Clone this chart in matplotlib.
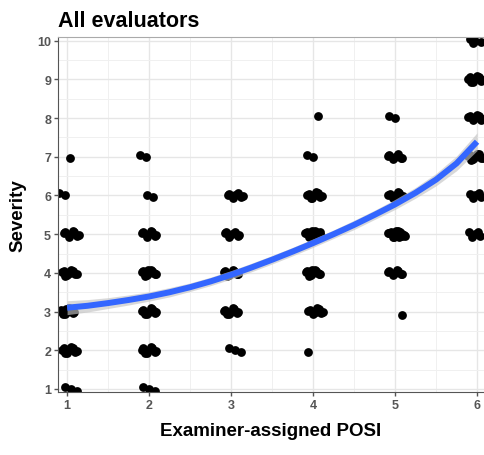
import matplotlib.pyplot as plt
import numpy as np

plt.rcParams['font.family'] = ['Liberation Sans', 'DejaVu Sans']

# cells of the jittered scatter: posi, severity, number of points, cluster shift
cell_posi = [1, 1, 1, 1, 1, 1, 1,
             2, 2, 2, 2, 2, 2, 2,
             3, 3, 3, 3, 3,
             4, 4, 4, 4, 4, 4, 4,
             5, 5, 5, 5, 5, 5,
             6, 6, 6, 6, 6, 6]
cell_sev = [1, 2, 3, 4, 5, 6, 7,
            1, 2, 3, 4, 5, 6, 7,
            2, 3, 4, 5, 6,
            2, 3, 4, 5, 6, 7, 8,
            3, 4, 5, 6, 7, 8,
            5, 6, 7, 8, 9, 10]
cell_n = [3, 9, 11, 9, 8, 2, 1,
          3, 9, 10, 11, 8, 2, 2,
          3, 9, 10, 7, 7,
          1, 8, 11, 16, 9, 2, 1,
          1, 8, 15, 8, 7, 2,
          5, 5, 9, 8, 9, 4]
cell_dx = [0.05, 0.03, 0.00, 0.03, 0.05, -0.03, 0.03,
           0.00, 0.00, 0.00, 0.00, 0.00, 0.05, -0.04,
           0.05, 0.00, 0.00, 0.01, 0.05,
           -0.06, 0.03, 0.00, 0.00, 0.02, 0.00, 0.06,
           0.09, 0.00, 0.02, 0.01, 0.00, 0.00,
           -0.03, -0.02, -0.02, -0.02, -0.02, -0.02]
cell_dy = [0.0, 0.0, 0.0, 0.0, 0.0, 0.02, -0.03,
           0.0, 0.0, 0.0, 0.0, 0.0, -0.05, 0.0,
           0.0, 0.0, 0.0, 0.0, 0.0,
           -0.05, 0.0, 0.0, 0.0, 0.0, 0.0, 0.05,
           -0.1, 0.0, 0.0, 0.0, 0.0, 0.0,
           0.0, 0.0, 0.0, 0.0, 0.0, 0.0]

# fixed jitter pattern (same for every cell)
jit_dx = [0.00, -0.07, 0.07, -0.03, 0.04, -0.09, 0.09, 0.02,
          -0.05, 0.06, -0.01, 0.10, -0.10, 0.03, -0.06, 0.08]
jit_dy = [0.00, 0.05, -0.04, -0.06, 0.06, 0.02, -0.02, 0.08,
          -0.07, 0.01, 0.07, -0.05, 0.04, -0.08, 0.03, 0.06]

# smoother
smooth_x = [1.00, 1.25, 1.50, 1.75, 2.00, 2.25, 2.50, 2.75, 3.00, 3.25, 3.50,
            3.75, 4.00, 4.25, 4.50, 4.75, 5.00, 5.25, 5.50, 5.75, 6.00]
smooth_y = [3.10, 3.15, 3.22, 3.30, 3.39, 3.50, 3.63, 3.78, 3.95, 4.14, 4.34,
            4.55, 4.77, 5.00, 5.24, 5.50, 5.77, 6.07, 6.41, 6.83, 7.39]
smooth_se = [0.18, 0.16, 0.14, 0.13, 0.12, 0.12, 0.11, 0.11, 0.11, 0.11, 0.11,
             0.11, 0.11, 0.11, 0.12, 0.12, 0.13, 0.14, 0.16, 0.19, 0.23]

px, py = [], []
for x, y, n, dx, dy in zip(cell_posi, cell_sev, cell_n, cell_dx, cell_dy):
    for k in range(n):
        px.append(x + dx + jit_dx[k])
        py.append(y + dy + jit_dy[k])

fig = plt.figure(figsize=(4.84, 4.56), dpi=100)
ax = fig.add_axes([0.12, 0.138, 0.88, 0.779])

ax.scatter(px, py, s=40, color='black', linewidths=0, zorder=2)
sy = np.array(smooth_y)
se = np.array(smooth_se)
ax.fill_between(smooth_x, sy - se, sy + se, color='#c4c4c4', alpha=0.65,
                linewidth=0, zorder=3)
ax.plot(smooth_x, smooth_y, color='#3366FF', linewidth=4.3,
        solid_capstyle='butt', zorder=4)

ax.set_xlim(0.89, 6.085)
ax.set_ylim(0.92, 10.1)
ax.set_xticks(range(1, 7))
ax.set_yticks(range(1, 11))
ax.set_xticks(np.arange(1.5, 6.5, 1), minor=True)
ax.set_yticks(np.arange(1.5, 10.5, 1), minor=True)
ax.grid(which='major', color='#e6e6e6', linewidth=1.0, zorder=0)
ax.grid(which='minor', color='#f0f0f0', linewidth=0.7, zorder=0)
ax.set_axisbelow(True)
ax.tick_params(which='minor', length=0)
ax.tick_params(which='major', length=3, width=1, color='#555555',
               labelcolor='#555555', labelsize=9, pad=2)
for lab in ax.get_xticklabels() + ax.get_yticklabels():
    lab.set_fontweight('bold')

ax.spines['left'].set_color('#555555')
ax.spines['bottom'].set_color('#555555')
ax.spines['top'].set_color('#aaaaaa')
ax.spines['right'].set_visible(False)

ax.set_xlabel('Examiner-assigned POSI', fontsize=13.5, fontweight='bold',
              labelpad=8)
ax.set_ylabel('Severity', fontsize=13.5, fontweight='bold', labelpad=8)
ax.set_title('All evaluators', fontsize=15.5, fontweight='bold', loc='left',
             pad=8)

fig.savefig('out.png', dpi=100)
